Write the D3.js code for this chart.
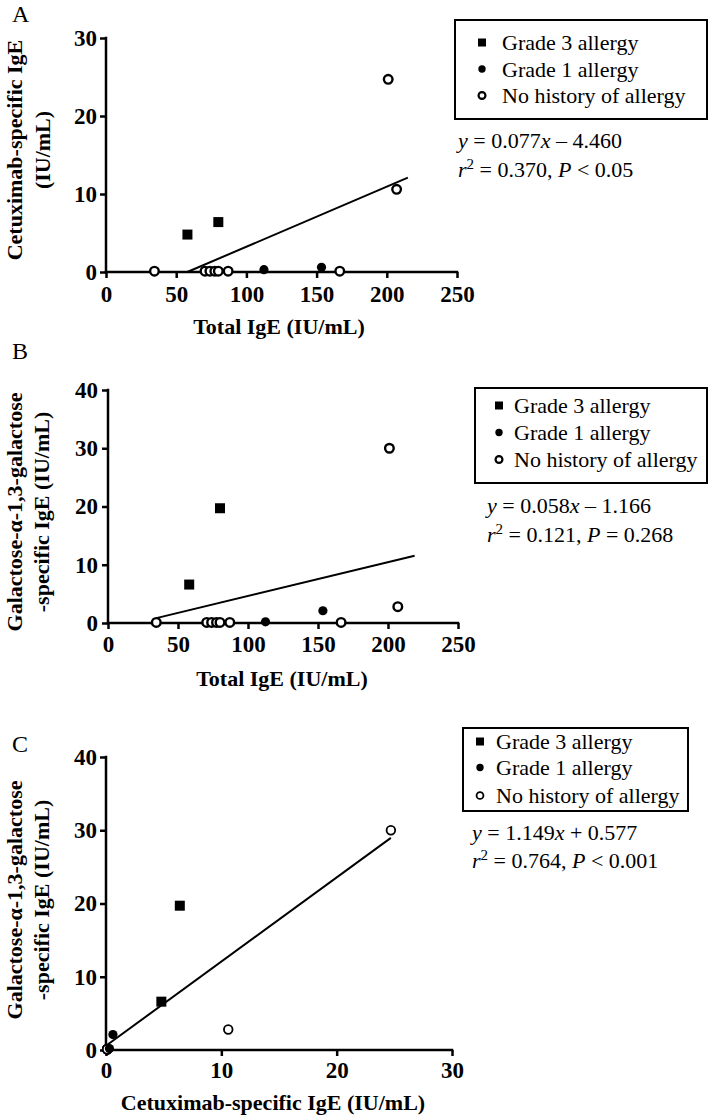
<!DOCTYPE html>
<html><head><meta charset="utf-8">
<script src="https://cdn.jsdelivr.net/npm/d3@7"></script>
<style>body{margin:0;background:#fff}svg{display:block}</style>
</head><body>
<svg id="chart" width="709" height="1117"></svg>
<script>
// ---------------- DATA ----------------
const groupNames = ["Grade 3 allergy", "Grade 1 allergy", "No history of allergy"];

// Grade 3 allergy patients
const grade3Total = [58, 80];
const grade3Cetux = [4.8, 6.4];
const grade3Gal   = [6.6, 19.7];
// Grade 1 allergy patients
const grade1Total = [112.5, 153.5];
const grade1Cetux = [0.3, 0.6];
const grade1Gal   = [0.2, 2.1];
// No history of allergy
const noneTotal = [34.5, 70.5, 74, 77.5, 80, 87, 166.5, 201, 207];
const noneCetux = [0.1, 0.1, 0.1, 0.1, 0.1, 0.1, 0.1, 24.7, 10.6];
const noneGal   = [0.1, 0.1, 0.1, 0.1, 0.1, 0.1, 0.1, 30, 2.8];

// Regression results
const slopes     = [0.077, 0.058, 1.149];
const intercepts = [-4.460, -1.166, 0.577];
const rSquared   = [0.370, 0.121, 0.764];
const pTexts     = ["P < 0.05", "P = 0.268", "P < 0.001"];
const lineXStart = [57.9, 34.5, 0];
const lineXEnd   = [215, 219, 24.7];

// Axes
const panelLetters = ["A", "B", "C"];
const xDomains = [[0, 250], [0, 250], [0, 30]];
const yDomains = [[0, 30], [0, 40], [0, 40]];
const xTickValues = [[0, 50, 100, 150, 200, 250], [0, 50, 100, 150, 200, 250], [0, 10, 20, 30]];
const yTickValues = [[0, 10, 20, 30], [0, 10, 20, 30, 40], [0, 10, 20, 30, 40]];
const xTitles = ["Total IgE (IU/mL)", "Total IgE (IU/mL)", "Cetuximab-specific IgE (IU/mL)"];
const yTitles = [["Cetuximab-specific IgE", "(IU/mL)"],
                 ["Galactose-\u03b1-1,3-galactose", "-specific IgE (IU/mL)"],
                 ["Galactose-\u03b1-1,3-galactose", "-specific IgE (IU/mL)"]];
const xKeys = ["total", "total", "cetux"];
const yKeys = ["cetux", "gal", "gal"];

// ---------------- BUILD RECORDS ----------------
function build(group, tot, cet, gal) {
  return tot.map((t, i) => ({ group, total: t, cetux: cet[i], gal: gal[i] }));
}
const records = [
  ...build(2, noneTotal, noneCetux, noneGal),
  ...build(1, grade1Total, grade1Cetux, grade1Gal),
  ...build(0, grade3Total, grade3Cetux, grade3Gal)
];

// ---------------- LAYOUT ----------------
const layouts = [
  { x0: 106, x1: 457, y0: 272, y1: 38, xPad: 8, yPad: 3, letter: [12, 22], xTitleY: 334, xTitleCX: 279,
    yTitleX: [22, 50], yTitleCY: 150,
    legend: { x: 455, y: 20, w: 252, h: 99, mx: 482, tx: 502, rows: [50, 76.5, 103] },
    eq: { x: 458, y: [148, 177] }, openStroke: 2.4 },
  { x0: 108, x1: 458, y0: 623, y1: 390, xPad: 7, yPad: 4, letter: [12, 359], xTitleY: 686, xTitleCX: 282,
    yTitleX: [22, 49], yTitleCY: 512,
    legend: { x: 475, y: 388, w: 232, h: 95, mx: 499, tx: 514, rows: [413, 440, 467] },
    eq: { x: 487, y: [513, 542] }, openStroke: 2.4 },
  { x0: 106, x1: 452, y0: 1050, y1: 757, xPad: 6, yPad: 3, letter: [12, 752], xTitleY: 1110, xTitleCX: 273,
    yTitleX: [22, 49], yTitleCY: 900,
    legend: { x: 463, y: 728, w: 225, h: 83, mx: 480, tx: 496, rows: [749, 775, 803] },
    eq: { x: 472, y: [840, 868] }, openStroke: 1.8 }
];

const FONT = "'Liberation Serif', 'Times New Roman', Times, serif";
const svg = d3.select("#chart");
svg.append("rect").attr("width", 709).attr("height", 1117).attr("fill", "#fff");

function drawMarker(g, group, cx, cy, size, openStroke) {
  if (group === 0) {
    g.append("rect").attr("x", cx - size).attr("y", cy - size)
      .attr("width", size * 2).attr("height", size * 2).attr("fill", "#000");
  } else if (group === 1) {
    g.append("circle").attr("cx", cx).attr("cy", cy).attr("r", size * 0.92).attr("fill", "#000");
  } else {
    g.append("circle").attr("cx", cx).attr("cy", cy).attr("r", size * 0.86)
      .attr("fill", "#fff").attr("stroke", "#000").attr("stroke-width", openStroke);
  }
}

layouts.forEach((L, p) => {
  const g = svg.append("g");
  const x = d3.scaleLinear().domain(xDomains[p]).range([L.x0, L.x1]);
  const y = d3.scaleLinear().domain(yDomains[p]).range([L.y0, L.y1]);

  // panel letter
  g.append("text").attr("x", L.letter[0]).attr("y", L.letter[1])
    .attr("font-family", FONT).attr("font-size", 24).text(panelLetters[p]);

  // axes
  const xAxis = d3.axisBottom(x).tickValues(xTickValues[p]).tickSize(6).tickSizeOuter(0).tickPadding(L.xPad);
  const yAxis = d3.axisLeft(y).tickValues(yTickValues[p]).tickSize(6).tickSizeOuter(0).tickPadding(L.yPad);
  const gx = g.append("g").attr("transform", `translate(0,${L.y0})`).call(xAxis);
  const gy = g.append("g").attr("transform", `translate(${L.x0},0)`).call(yAxis);
  [gx, gy].forEach(a => {
    a.select(".domain").attr("stroke", "#000").attr("stroke-width", 2.5);
    a.selectAll(".tick line").attr("stroke", "#000").attr("stroke-width", 2.5);
    a.selectAll(".tick text").attr("font-family", FONT).attr("font-size", 23)
      .attr("font-weight", "bold").attr("fill", "#000");
  });
  gx.select(".domain").attr("d", `M${L.x0 - 1.25},0H${L.x1 + 1.25}`);
  gy.select(".domain").attr("d", `M0,${L.y0 + 1.25}V${L.y1 - 1.25}`);

  // axis titles
  g.append("text").attr("x", L.xTitleCX).attr("y", L.xTitleY).attr("text-anchor", "middle")
    .attr("font-family", FONT).attr("font-size", 22).attr("font-weight", "bold").text(xTitles[p]);
  yTitles[p].forEach((t, i) => {
    g.append("text")
      .attr("transform", `translate(${L.yTitleX[i]},${L.yTitleCY}) rotate(-90)`)
      .attr("text-anchor", "middle").attr("font-family", FONT).attr("font-size", 22)
      .attr("font-weight", "bold").text(t);
  });

  // regression line
  const lx = [lineXStart[p], lineXEnd[p]];
  g.append("path")
    .datum(lx.map(v => [v, slopes[p] * v + intercepts[p]]))
    .attr("d", d3.line().x(d => x(d[0])).y(d => y(d[1])))
    .attr("stroke", "#000").attr("stroke-width", 2).attr("fill", "none");

  // points
  const pg = g.append("g");
  records.forEach(r => {
    drawMarker(pg, r.group, x(r[xKeys[p]]), y(r[yKeys[p]]), 5, L.openStroke);
  });

  // legend
  const lg = g.append("g");
  lg.append("rect").attr("x", L.legend.x).attr("y", L.legend.y)
    .attr("width", L.legend.w).attr("height", L.legend.h)
    .attr("fill", "none").attr("stroke", "#000").attr("stroke-width", 2);
  groupNames.forEach((name, i) => {
    const by = L.legend.rows[i];
    drawMarker(lg, i, L.legend.mx, by - 7.5, 4, p === 2 ? 1.8 : 2.2);
    lg.append("text").attr("x", L.legend.tx).attr("y", by)
      .attr("font-family", FONT).attr("font-size", 22).text(name);
  });

  // equation
  const sign = intercepts[p] < 0 ? "\u2013" : "+";
  const t1 = g.append("text").attr("x", L.eq.x).attr("y", L.eq.y[0])
    .attr("font-family", FONT).attr("font-size", 22);
  t1.append("tspan").attr("font-style", "italic").text("y");
  t1.append("tspan").text(` = ${slopes[p].toFixed(3)}`);
  t1.append("tspan").attr("font-style", "italic").text("x");
  t1.append("tspan").text(` ${sign} ${Math.abs(intercepts[p]).toFixed(3)}`);

  const t2 = g.append("text").attr("x", L.eq.x).attr("y", L.eq.y[1])
    .attr("font-family", FONT).attr("font-size", 22);
  t2.append("tspan").attr("font-style", "italic").text("r");
  t2.append("tspan").attr("font-size", 15).attr("dy", -8).text("2");
  t2.append("tspan").attr("dy", 8).text(` = ${rSquared[p].toFixed(3)}, `);
  const pParts = pTexts[p].split(" ");
  t2.append("tspan").attr("font-style", "italic").text(pParts[0]);
  t2.append("tspan").text(" " + pParts.slice(1).join(" "));
});
</script>
</body></html>
